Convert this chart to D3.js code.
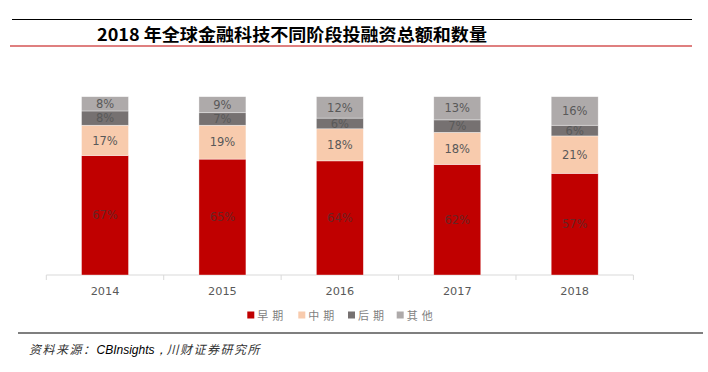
<!DOCTYPE html>
<html><head><meta charset="utf-8">
<script src="https://cdn.jsdelivr.net/npm/d3@7"></script>
<style>
body{margin:0;background:#fff;}
svg{display:block;}
</style></head>
<body>
<svg id="c" width="708" height="372"></svg>
<script>
const years = ["2014","2015","2016","2017","2018"];
const seriesNames = ["早期","中期","后期","其他"];
const early = [67,65,64,62,57];
const middle = [17,19,18,18,21];
const late = [8,7,6,7,6];
const other = [8,9,12,13,16];
const colors = ["#C00000","#F8CBAD","#767171","#AEAAAA"];

const rows = years.map((y,i)=>({year:y, "早期":early[i], "中期":middle[i], "后期":late[i], "其他":other[i]}));
const stack = d3.stack().keys(seriesNames)(rows);

const svg = d3.select("#c");
// header lines and title
svg.append("line").attr("x1",12).attr("x2",692).attr("y1",19.5).attr("y2",19.5).attr("stroke","#000").attr("stroke-width",1.2);
svg.append("line").attr("x1",10).attr("x2",692).attr("y1",46).attr("y2",46).attr("stroke","#C00000").attr("stroke-width",1.2);
svg.append("text").attr("x",97).attr("y",40.5).attr("font-family","'Noto Sans CJK SC'").attr("font-weight","bold")
  .attr("font-size",17).attr("fill","#000").attr("textLength",390).attr("lengthAdjust","spacingAndGlyphs")
  .text("2018 年全球金融科技不同阶段投融资总额和数量");

const x = d3.scaleBand().domain(years).range([46.3,633.4]).paddingInner(0.6).paddingOuter(0.3);
const y = d3.scaleLinear().domain([0,100]).range([275,96.7]);

// axis
const axisG = svg.append("g").attr("transform","translate(0,275)");
axisG.append("line").attr("x1",46.3).attr("x2",633.4).attr("stroke","#d9d9d9");
const step = (633.4-46.3)/years.length;
d3.range(years.length+1).forEach(i=>{
  axisG.append("line").attr("x1",46.3+i*step).attr("x2",46.3+i*step).attr("y1",0).attr("y2",5).attr("stroke","#d9d9d9");
});
axisG.selectAll("text.yr").data(years).join("text").attr("class","yr")
  .attr("x",d=>x(d)+x.bandwidth()/2).attr("y",20).attr("text-anchor","middle")
  .attr("font-family","'DejaVu Sans',sans-serif").attr("font-size",11.3).attr("fill","#595959").text(d=>d);

// bars
const g = svg.append("g");
stack.forEach((layer,li)=>{
  g.selectAll(null).data(layer).join("rect")
    .attr("x",d=>x(d.data.year)).attr("width",x.bandwidth())
    .attr("y",d=>y(d[1])).attr("height",d=>y(d[0])-y(d[1]))
    .attr("fill",colors[li]).attr("stroke","#fff").attr("stroke-width",0.6).attr("stroke-opacity",0.6);
  g.selectAll(null).data(layer).join("text")
    .attr("x",d=>x(d.data.year)+x.bandwidth()/2).attr("y",d=>(y(d[0])+y(d[1]))/2+4.2)
    .attr("text-anchor","middle").attr("font-family","'DejaVu Sans',sans-serif")
    .attr("font-size",11.5).attr("fill", li===0 ? "#6a2424" : "#595959")
    .text(d=>(d[1]-d[0])+"%");
});

// legend
const legX = [247.3, 298.3, 348, 396.7];
const leg = svg.append("g");
seriesNames.forEach((n,i)=>{
  leg.append("rect").attr("x",legX[i]).attr("y",311.5).attr("width",7).attr("height",7).attr("fill",colors[i]);
  leg.append("text").attr("x",legX[i]+10).attr("y",319.5).attr("font-family","'Noto Sans CJK SC'")
    .attr("font-size",11).attr("letter-spacing",4).attr("fill","#7f7f7f").text(n);
});

// footer
svg.append("line").attr("x1",18).attr("x2",703).attr("y1",333).attr("y2",333).attr("stroke","#000").attr("stroke-width",1.2);
const src = svg.append("text").attr("x",29).attr("y",353.5).attr("font-size",12).attr("font-style","italic");
src.append("tspan").attr("font-family","'Noto Sans CJK SC'").attr("fill","#333").attr("letter-spacing",1.5).text("资料来源：");
src.append("tspan").attr("font-family","'Liberation Sans',Arial,sans-serif").attr("fill","#000").text("CBInsights，");
src.append("tspan").attr("font-family","'Noto Sans CJK SC'").attr("fill","#333").attr("letter-spacing",1.5).text("川财证券研究所");
</script>
</body></html>
